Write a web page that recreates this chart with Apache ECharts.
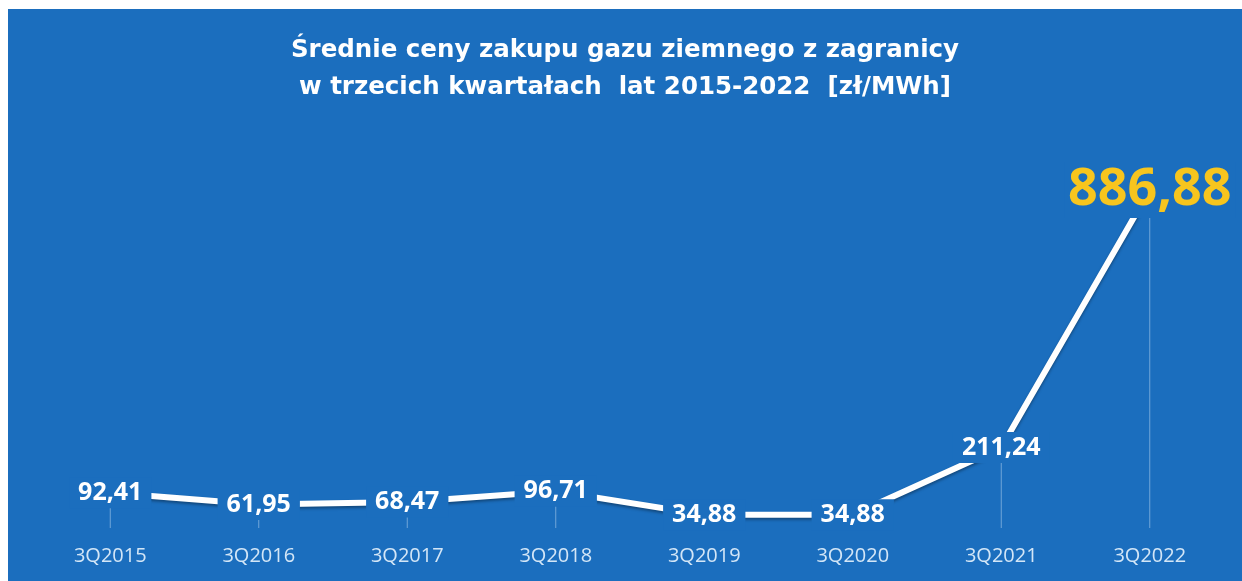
<!DOCTYPE html>
<html><head><meta charset="utf-8">
<script src="https://cdn.jsdelivr.net/npm/echarts@6/dist/echarts.min.js"></script>
<style>
html,body{margin:0;padding:0;background:#fff;width:1242px;height:581px;overflow:hidden}
#c{position:absolute;left:8px;top:9px;width:1234px;height:572px}
</style></head><body>
<div id="c"></div>
<script>
const categories = ['3Q2015','3Q2016','3Q2017','3Q2018','3Q2019','3Q2020','3Q2021','3Q2022'];
const values = [92.41, 61.95, 68.47, 96.71, 34.88, 34.88, 211.24, 886.88];
const titleLines = ['Średnie ceny zakupu gazu ziemnego z zagranicy', 'w trzecich kwartałach  lat 2015-2022  [zł/MWh]'];

const BG = '#1b6ebe';
const fmt = v => v.toFixed(2).replace('.', ',');
const chart = echarts.init(document.getElementById('c'));
const lineData = values.map((v, i) => {
  const item = { value: v };
  if (i === values.length - 1) {
    item.label = { color: '#f7c51e', fontSize: 52, padding: [2, 4] };
  }
  return item;
});
chart.setOption({
  backgroundColor: BG,
  animation: false,
  title: {
    text: titleLines.join('\n'),
    left: 'center',
    top: 18,
    textStyle: { color: '#ffffff', fontFamily: 'DejaVu Sans', fontWeight: 'bold', fontSize: 24.5, lineHeight: 37 }
  },
  grid: { left: 28, right: 18, top: 176, bottom: 53 },
  xAxis: {
    type: 'category',
    data: categories,
    axisLine: { show: false },
    axisTick: { show: false },
    axisLabel: { color: '#d3e6f7', fontFamily: 'Open Sans', fontSize: 20, margin: 18 }
  },
  yAxis: { type: 'value', min: 0, max: 900, show: false, splitLine: { show: false } },
  series: [
    {
      type: 'bar',
      data: values,
      barWidth: 1,
      itemStyle: { color: 'rgba(220,235,250,0.45)' },
      z: 1,
      silent: true
    },
    {
      type: 'line',
      data: lineData,
      symbol: 'circle',
      symbolSize: 2,
      itemStyle: { color: '#ffffff' },
      lineStyle: { color: '#ffffff', width: 6, shadowColor: 'rgba(0,0,0,0.35)', shadowBlur: 3, shadowOffsetY: 2 },
      z: 3,
      label: {
        show: true,
        position: 'inside',
        formatter: p => fmt(p.value),
        color: '#ffffff',
        fontFamily: 'Open Sans',
        fontWeight: 'bold',
        fontSize: 25,
        backgroundColor: BG,
        padding: [3, 9]
      }
    }
  ]
});
</script>
</body></html>
